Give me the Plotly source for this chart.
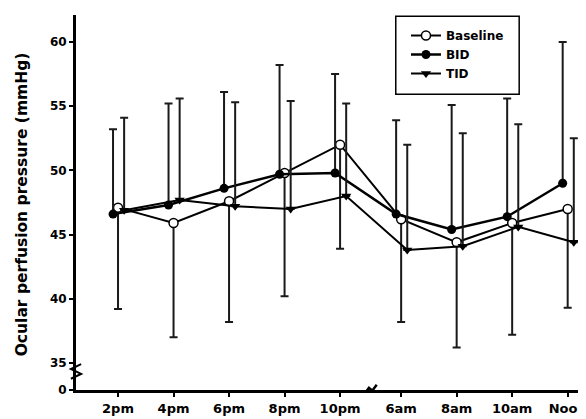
import plotly.graph_objects as go

# ---- data ----
time_labels = ["2pm", "4pm", "6pm", "8pm", "10pm", "6am", "8am", "10am", "Noon"]
time_pos = [0, 1, 2, 3, 4, 5.1, 6.1, 7.1, 8.1]

baseline_mean = [47.1, 45.9, 47.6, 49.8, 52.0, 46.2, 44.4, 45.9, 47.0]
baseline_low = [39.2, 37.0, 38.2, 40.2, 43.9, 38.2, 36.2, 37.2, 39.3]

bid_mean = [46.6, 47.3, 48.6, 49.7, 49.8, 46.6, 45.4, 46.4, 49.0]
bid_high = [53.2, 55.2, 56.1, 58.2, 57.5, 53.9, 55.1, 55.6, 60.0]

tid_mean = [46.9, 47.7, 47.2, 47.0, 48.0, 43.8, 44.1, 45.6, 44.4]
tid_high = [54.1, 55.6, 55.3, 55.4, 55.2, 52.0, 52.9, 53.6, 52.5]

y_tick_vals = [32.9, 35, 40, 45, 50, 55, 60]
y_tick_text = ["0", "35", "40", "45", "50", "55", "60"]

# ---- figure ----
FAM = "DejaVu Sans, Liberation Sans, Arial, sans-serif"
def fnt(size):
    return dict(family=FAM, size=size, color="black", weight="bold")

BAR_COLOR = "#1a1a1a"

def shifted(off):
    return [p + off for p in time_pos]

fig = go.Figure()

fig.add_trace(go.Scatter(
    x=shifted(0.0), y=baseline_mean, name="Baseline", mode="lines+markers",
    line=dict(color="black", width=2),
    marker=dict(symbol="circle", size=9, color="white", line=dict(color="black", width=1.5)),
    error_y=dict(type="data", symmetric=False,
                 array=[0] * len(baseline_mean),
                 arrayminus=[m - l for m, l in zip(baseline_mean, baseline_low)],
                 color=BAR_COLOR, thickness=2, width=4),
))
fig.add_trace(go.Scatter(
    x=shifted(-0.09), y=bid_mean, name="BID", mode="lines+markers",
    line=dict(color="black", width=2.5),
    marker=dict(symbol="circle", size=9, color="black"),
    error_y=dict(type="data", symmetric=False,
                 array=[h - m for h, m in zip(bid_high, bid_mean)],
                 arrayminus=[0] * len(bid_mean),
                 color=BAR_COLOR, thickness=2, width=4),
))
fig.add_trace(go.Scatter(
    x=shifted(0.11), y=tid_mean, name="TID", mode="lines+markers",
    line=dict(color="black", width=2),
    marker=dict(symbol="triangle-down", size=9, color="black"),
    error_y=dict(type="data", symmetric=False,
                 array=[h - m for h, m in zip(tid_high, tid_mean)],
                 arrayminus=[0] * len(tid_mean),
                 color=BAR_COLOR, thickness=2, width=4),
))

# axis break marks
fig.add_shape(type="path", xref="paper", yref="paper",
              path="M -0.010 0.03 L 0.010 0.043 L -0.010 0.056 L 0.010 0.069",
              line=dict(color="black", width=2))
fig.add_shape(type="path", xref="x", yref="paper",
              path="M 4.46 -0.006 L 4.52 0.006 L 4.58 -0.002 L 4.66 0.014",
              line=dict(color="black", width=2.5))

# legend frame
fig.add_shape(type="rect", xref="paper", yref="paper",
              x0=0.627, x1=0.869, y0=0.789, y1=0.997,
              line=dict(color="black", width=1.5), fillcolor="white", layer="below")

fig.add_annotation(text="Ocular perfusion pressure (mmHg)", xref="paper", yref="paper",
                   x=-0.106, y=0.495, textangle=-90, showarrow=False,
                   font=fnt(15.5), xanchor="center", yanchor="middle")

fig.update_layout(
    width=578, height=411,
    margin=dict(l=68, r=0, t=7, b=29),
    paper_bgcolor="white", plot_bgcolor="white",
    font=fnt(12),
    showlegend=True,
    legend=dict(x=0.647, y=0.984, xanchor="left", yanchor="top",
                borderwidth=0, bgcolor="rgba(0,0,0,0)",
                font=fnt(12), itemwidth=30, tracegroupgap=0),
    xaxis=dict(range=[-0.757, 8.43], showgrid=False, zeroline=False,
               showline=True, linecolor="black", linewidth=3,
               tickmode="array", tickvals=time_pos, ticktext=time_labels,
               ticks="outside", ticklen=4, tickwidth=2, tickcolor="black",
               tickfont=fnt(13), ticklabeloverflow="allow"),
    yaxis=dict(range=[32.9, 62.1], showgrid=False, zeroline=False,
               showline=True, linecolor="black", linewidth=3,
               tickmode="array", tickvals=y_tick_vals, ticktext=y_tick_text,
               ticks="outside", ticklen=4, tickwidth=2, tickcolor="black",
               tickfont=fnt(12)),
)

fig.write_html("out.html")
